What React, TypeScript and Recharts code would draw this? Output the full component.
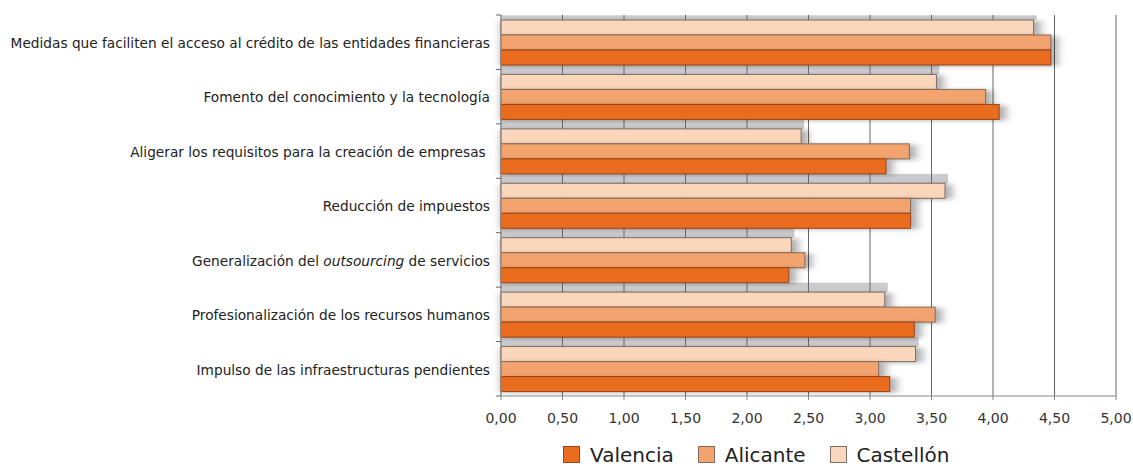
import React from 'react'
import { BarChart, Bar, XAxis, YAxis, CartesianGrid, Legend } from 'recharts'

const categories = [
  'Medidas que faciliten el acceso al crédito de las entidades financieras',
  'Fomento del conocimiento y la tecnología',
  'Aligerar los requisitos para la creación de empresas\u00A0',
  'Reducción de impuestos',
  'Generalización del outsourcing de servicios',
  'Profesionalización de los recursos humanos',
  'Impulso de las infraestructuras pendientes',
]
const valencia = [4.47, 4.05, 3.13, 3.33, 2.34, 3.36, 3.16]
const alicante = [4.47, 3.94, 3.32, 3.33, 2.47, 3.53, 3.07]
const castellon = [4.33, 3.54, 2.44, 3.61, 2.36, 3.12, 3.37]
const xTicks = [0, 0.5, 1, 1.5, 2, 2.5, 3, 3.5, 4, 4.5, 5]

const data = categories.map((name, i) => ({
  name, valencia: valencia[i], alicante: alicante[i], castellon: castellon[i],
}))

const W = 1133
const H = 468
const MARGIN = { top: 15, right: 17, bottom: 0, left: 0 }
const Y_W = 501
const X_H = 72
const BAR = 15
const BAND = (H - MARGIN.top - MARGIN.bottom - X_H) / categories.length
const GAP = BAND - 3 * BAR

const SERIES = [
  { key: 'valencia', name: 'Valencia', fill: '#E96C1F', stroke: '#9a4418' },
  { key: 'alicante', name: 'Alicante', fill: '#F2A36E', stroke: '#8a6a58' },
  { key: 'castellon', name: 'Castellón', fill: '#FAD6BB', stroke: '#7d6e66' },
]

const FONT = '"DejaVu Sans", sans-serif'

function makeShape(fill: string, stroke: string, withGap: boolean) {
  return (props: any) => {
    const { x, y, width, height, index } = props
    if (width == null || width <= 0) return <g />
    const gh = index === 0 ? GAP / 2 : GAP
    return (
      <g>
        {withGap && (
          <rect x={x} y={y - gh} width={width + 3} height={gh} fill="rgba(110,112,120,0.36)" />
        )}
        <rect x={x} y={y + 1} width={width + 7} height={height} fill="rgba(0,0,0,0.32)" filter="url(#barShadow)" />
        <rect x={x} y={y} width={width} height={height} fill={fill} stroke={stroke} strokeWidth={1} />
      </g>
    )
  }
}

function CategoryTick(props: any) {
  const { x, y, payload, index } = props
  const label: string = payload.value
  const parts = label.split('outsourcing')
  return (
    <g>
      <line x1={Y_W - 5} x2={Y_W} y1={y - BAND / 2} y2={y - BAND / 2} stroke="#666" />
      {index === categories.length - 1 && (
        <line x1={Y_W - 5} x2={Y_W} y1={y + BAND / 2} y2={y + BAND / 2} stroke="#666" />
      )}
      <text x={x} y={y + 1} textAnchor="end" dy="0.35em" fontSize={13.7} fontFamily={FONT} fill="#222">
        {parts.length > 1 ? (
          <>
            <tspan>{parts[0]}</tspan>
            <tspan fontStyle="italic">outsourcing</tspan>
            <tspan>{parts[1]}</tspan>
          </>
        ) : label}
      </text>
    </g>
  )
}

function LegendContent() {
  return (
    <div style={{ display: 'flex', alignItems: 'center', gap: 24, fontFamily: FONT, fontSize: 20, lineHeight: '16px', color: '#222' }}>
      {SERIES.map(s => (
        <div key={s.key} style={{ display: 'flex', alignItems: 'center', gap: 10 }}>
          <span style={{ width: 15, height: 15, background: s.fill, border: `1px solid ${s.stroke}`, display: 'inline-block' }} />
          <span>{s.name}</span>
        </div>
      ))}
    </div>
  )
}

export default function App() {
  const barOrder = [SERIES[2], SERIES[1], SERIES[0]]
  return (
    <div style={{ position: 'absolute', left: 0, top: 0, width: W, height: H, background: '#fff', overflow: 'hidden' }}>
      <BarChart width={W} height={H} data={data} layout="vertical" margin={MARGIN} barSize={BAR} barGap={0}>
        <defs>
          <filter id="barShadow" x="-5%" y="-50%" width="115%" height="200%">
            <feGaussianBlur stdDeviation="4 2" />
          </filter>
        </defs>
        <CartesianGrid horizontal={false} stroke="#666" />
        <XAxis
          type="number" domain={[0, 5]} ticks={xTicks} interval={0}
          tickFormatter={(v: number) => v.toFixed(2).replace('.', ',')}
          height={X_H}
          axisLine={{ stroke: '#888' }} tickLine={{ stroke: '#888' }} tickSize={4} tickMargin={13}
          tick={{ fontSize: 14, fontFamily: FONT, fill: '#333' }}
        />
        <XAxis
          xAxisId="top" orientation="top" type="number" domain={[0, 5]} height={0}
          tick={false} tickLine={false} axisLine={{ stroke: '#555' }}
        />
        <YAxis
          type="category" dataKey="name" width={Y_W} interval={0}
          axisLine={{ stroke: '#999' }} tickLine={false} tickSize={5} tickMargin={6}
          tick={<CategoryTick />}
        />
        <Legend
          layout="horizontal" verticalAlign="middle" align="center"
          wrapperStyle={{ top: 446, left: 563, width: 'auto' }}
          content={<LegendContent />}
        />
        {barOrder.map(s => (
          <Bar
            key={s.key} dataKey={s.key} name={s.name} fill={s.fill}
            shape={makeShape(s.fill, s.stroke, s.key === 'castellon')}
            isAnimationActive={false}
          />
        ))}
      </BarChart>
    </div>
  )
}
